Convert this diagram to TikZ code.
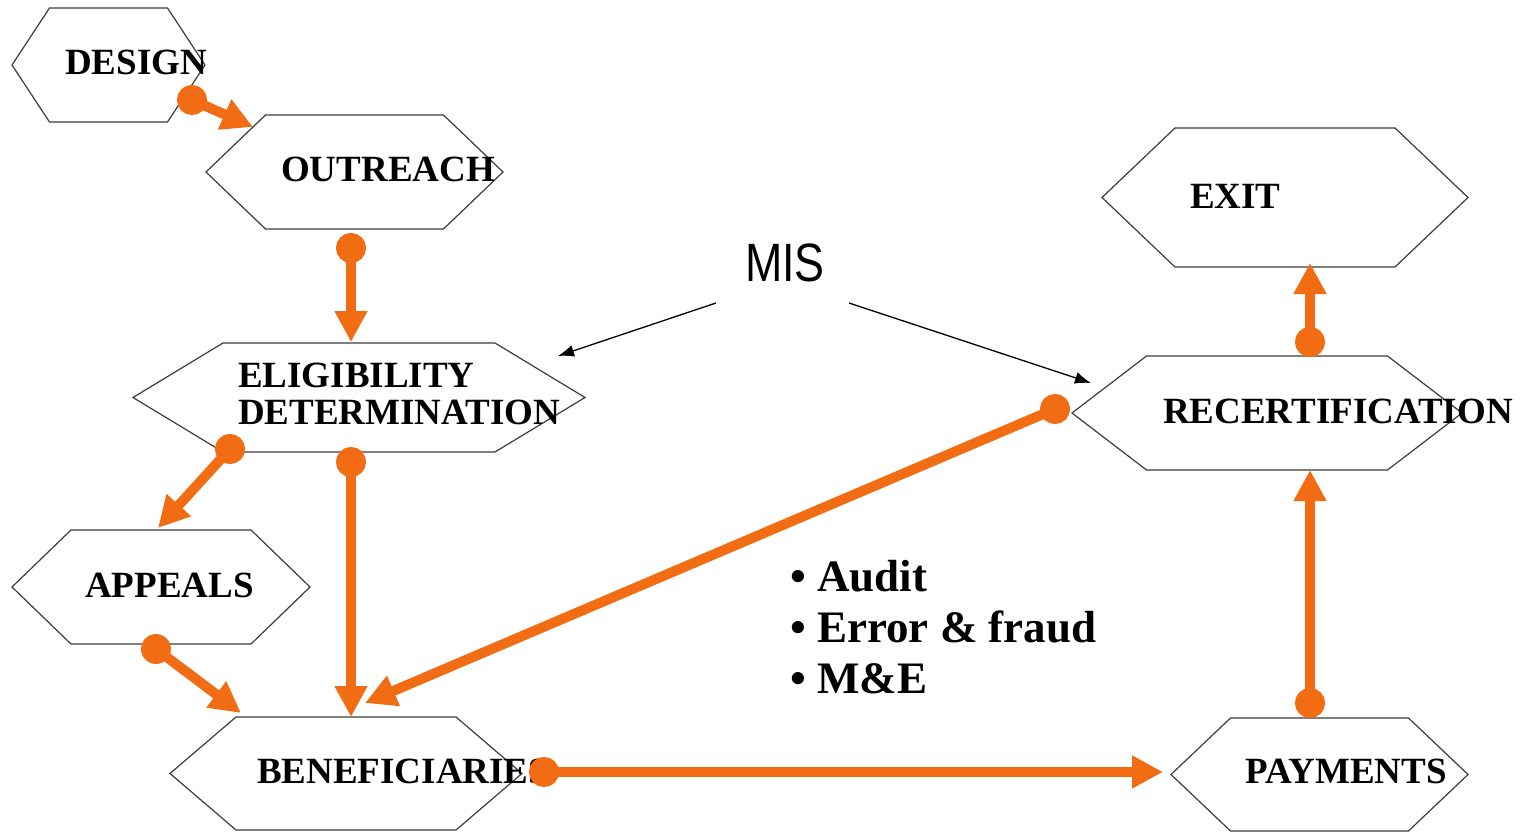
\documentclass[tikz,border=0pt]{standalone}
\usepackage{fontspec}
\setmainfont{Liberation Serif}
\newfontfamily\misfont{Liberation Sans}
\usetikzlibrary{arrows.meta,calc}
\definecolor{orng}{RGB}{242,108,20}
\definecolor{hexgray}{RGB}{60,60,60}
\tikzset{
  hexbody/.style={rectangle, inner sep=0pt, outer sep=0pt},
  hexline/.style={draw=hexgray, line width=1.2pt, line join=miter},
  lbl/.style={inner sep=0pt, font=\fontsize{37}{37}\selectfont\bfseries, anchor=base west},
  flow/.style={draw=orng, line width=10pt, {Circle[length=30pt,width=30pt]}-{Triangle[length=31pt,width=31pt]}, shorten <=-15pt},
  misarrow/.style={draw=black, line width=1.3pt, -{Latex[length=16pt,width=12pt]}},
}
\newcommand\hexnode[6]{% name, cx, cy, top half-width, tip half-width, half-height
  \node[hexbody, minimum width=#4*2pt, minimum height=#6*2pt] (#1) at (#2,#3) {};
  \draw[hexline] (#1.north west) -- (#1.north east) -- ([xshift=#5pt-#4pt]#1.east)
    -- (#1.south east) -- (#1.south west) -- ([xshift=#4pt-#5pt]#1.west) -- cycle;}
\begin{document}
\begin{tikzpicture}[x=1pt,y=-1pt]
\useasboundingbox (0,0) rectangle (1527,832);
% hexagons
\hexnode{design}{108.5}{65}{59}{96.5}{57}
\hexnode{outreach}{354.5}{172}{89}{148.5}{57}
\hexnode{elig}{359}{397.5}{136}{226}{54.5}
\hexnode{appeals}{161}{587}{90}{149}{57}
\hexnode{benef}{346}{773.5}{110}{176}{56.5}
\hexnode{exit}{1285}{197.5}{110}{183}{69.5}
\hexnode{recert}{1267}{413}{120.5}{195}{57}
\hexnode{payments}{1319.5}{774.5}{89}{148.5}{56.5}
% labels
\node[lbl] (tdesign) at (65,75) {DESIGN};
\node[lbl] (toutreach) at (281,182) {OUTREACH};
\node[lbl, align=left] (telig) at (238,424) {ELIGIBILITY\\DETERMINATION};
\node[lbl] (tappeals) at (85,597) {APPEALS};
\node[lbl] (tbenef) at (257,783) {BENEFICIARIES};
\node[lbl] (texit) at (1190,208) {EXIT};
\node[lbl] (trecert) at (1163,423) {RECERTIFICATION};
\node[lbl] (tpayments) at (1245,783) {PAYMENTS};
\node[inner sep=0pt, font=\misfont\fontsize{54}{54}\selectfont] (mis) at (785,263) {\scalebox{0.83}[1]{MIS}};
\node[inner sep=0pt, anchor=base west, align=left, font=\fontsize{45}{51}\selectfont\bfseries] (notes) at (790,693)
  {\textbullet\ Audit\\\textbullet\ Error \& fraud\\\textbullet\ M\&E};
% MIS arrows
\coordinate (m1s) at (716,303);
\coordinate (m1e) at (558,356);
\coordinate (m2s) at (849,303);
\coordinate (m2e) at (1091,383);
\draw[misarrow] (m1s) -- (m1e);
\draw[misarrow] (m2s) -- (m2e);
% flow connector ends
\coordinate (a1) at (192,100);  \coordinate (b1) at (253,127);
\coordinate (a2) at (351,248);  \coordinate (b2) at (351,342);
\coordinate (a3) at (230,449);  \coordinate (b3) at (158,528);
\coordinate (a4) at (351,462);  \coordinate (b4) at (351,717);
\coordinate (a5) at (156,649);  \coordinate (b5) at (241,713);
\coordinate (a6) at (1055,409); \coordinate (b6) at (365,703);
\coordinate (a7) at (544,772);  \coordinate (b7) at (1163,772);
\coordinate (a8) at (1310,703); \coordinate (b8) at (1310,470);
\coordinate (a9) at (1310,342); \coordinate (b9) at (1310,263);
\foreach \i in {1,...,9} {\draw[flow] (a\i) -- (b\i);}
\end{tikzpicture}
\end{document}
